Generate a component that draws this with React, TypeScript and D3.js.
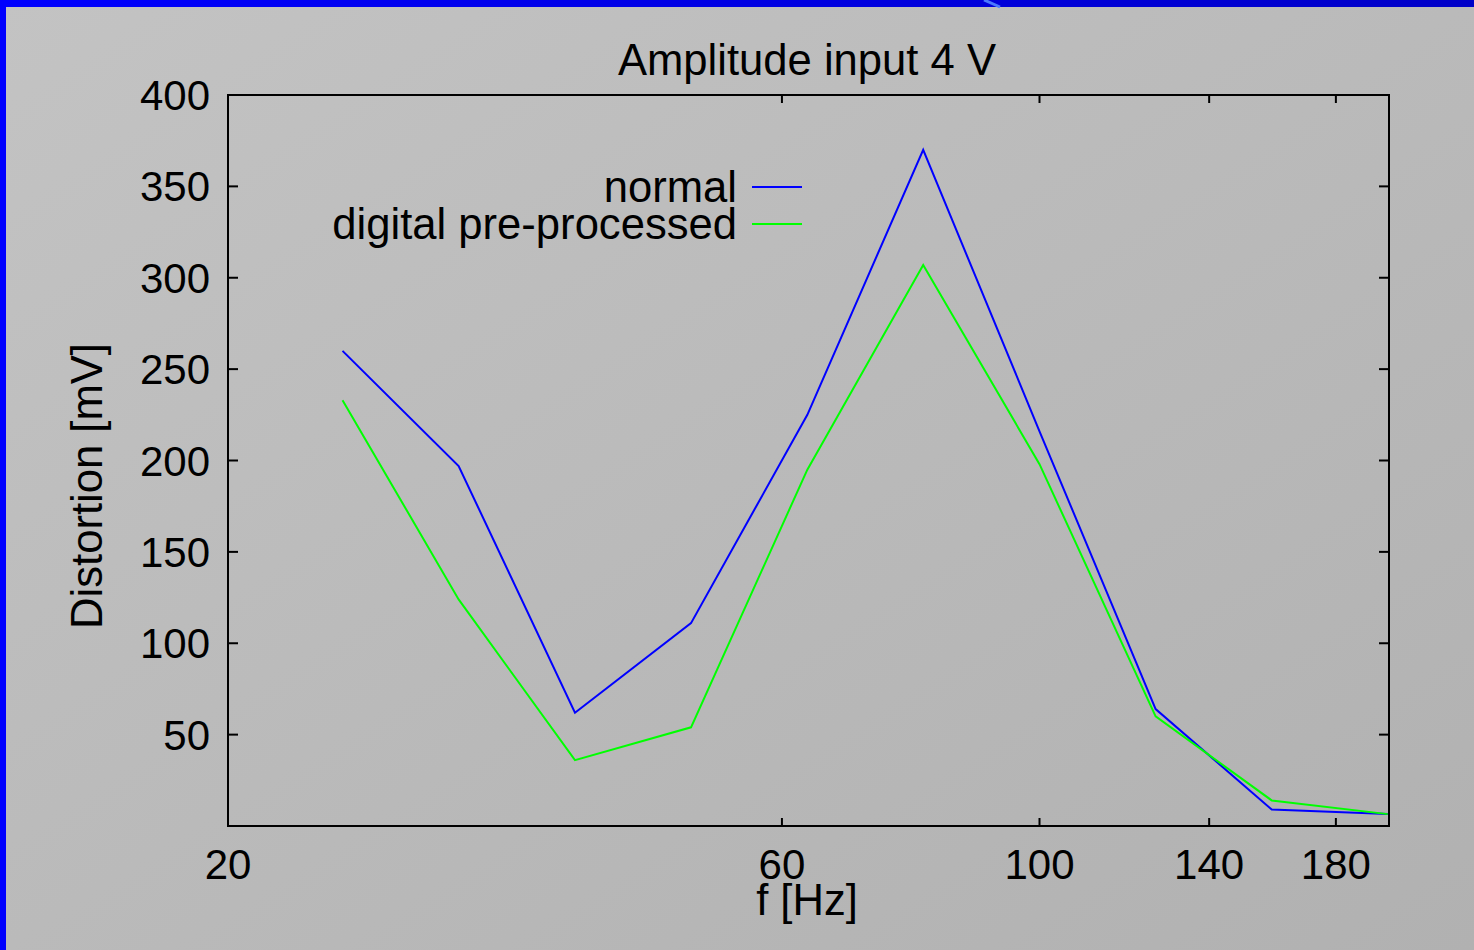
import { useEffect, useRef } from 'react';
import * as d3 from 'd3';

// third-octave centre frequencies [Hz] (exact base-10 values)
const freqs = [25.1, 31.6, 39.8, 50.1, 63.1, 79.4, 100, 125.9, 158.5, 199.5];
const normal = [260, 197, 62, 111, 225, 370, 216, 64, 9, 6.5];
const digital = [233, 124, 36, 54, 195, 307, 198, 60, 14, 6.5];
const xTicks = [20, 60, 100, 140, 180];
const yTicks = [0, 50, 100, 150, 200, 250, 300, 350, 400];
const seriesNames = ['normal', 'digital pre-processed'];
const seriesColors = ['#0000ff', '#00ff00'];

const W = 1474;
const H = 950;
const FONT = '"Liberation Sans", Arial, Helvetica, sans-serif';

const App = () => {
  const svgRef = useRef<SVGSVGElement>(null);

  useEffect(() => {
    document.body.style.margin = '0';
    const svg = d3.select(svgRef.current);
    svg.selectAll('*').remove();

    const margin = { left: 228, right: 85, top: 95, bottom: 124 };
    const x = d3.scaleLog().domain([20, 200]).range([margin.left, W - margin.right]);
    const y = d3.scaleLinear().domain([0, 400]).range([H - margin.bottom, margin.top]);

    // background
    const defs = svg.append('defs');
    const bg = defs.append('linearGradient').attr('id', 'bg')
      .attr('x1', '0').attr('y1', '0').attr('x2', '1').attr('y2', '1');
    bg.append('stop').attr('offset', '0').attr('stop-color', '#c3c3c3');
    bg.append('stop').attr('offset', '1').attr('stop-color', '#b1b1b1');
    const bar = defs.append('linearGradient').attr('id', 'bar')
      .attr('x1', '0').attr('y1', '0').attr('x2', '1').attr('y2', '0');
    bar.append('stop').attr('offset', '0').attr('stop-color', '#0000ff');
    bar.append('stop').attr('offset', '1').attr('stop-color', '#0000c8');

    svg.append('rect').attr('width', W).attr('height', H).attr('fill', 'url(#bg)');
    svg.append('rect').attr('width', W).attr('height', 7).attr('fill', 'url(#bar)');
    svg.append('rect').attr('width', 6).attr('height', H).attr('fill', '#0000ff');
    svg.append('line')
      .attr('x1', 984).attr('y1', 0).attr('x2', 1000).attr('y2', 7)
      .attr('stroke', '#4a78ff').attr('stroke-width', 3);

    const g = svg.append('g').style('font-family', FONT).style('font-size', '42px');

    // ticks (inward, all four sides)
    const x0 = x.range()[0], x1 = x.range()[1];
    const y0 = y.range()[0], y1 = y.range()[1];
    yTicks.forEach(v => {
      g.append('line').attr('x1', x0).attr('x2', x0 + 10).attr('y1', y(v)).attr('y2', y(v))
        .attr('stroke', '#000').attr('stroke-width', 2);
      g.append('line').attr('x1', x1 - 10).attr('x2', x1).attr('y1', y(v)).attr('y2', y(v))
        .attr('stroke', '#000').attr('stroke-width', 2);
      if (v > 0) {
        g.append('text').attr('x', 210).attr('y', y(v)).attr('dy', '0.36em')
          .attr('text-anchor', 'end').text(v);
      }
    });
    xTicks.forEach(v => {
      g.append('line').attr('x1', x(v)).attr('x2', x(v)).attr('y1', y0).attr('y2', y0 - 8)
        .attr('stroke', '#000').attr('stroke-width', 2);
      g.append('line').attr('x1', x(v)).attr('x2', x(v)).attr('y1', y1).attr('y2', y1 + 8)
        .attr('stroke', '#000').attr('stroke-width', 2);
      g.append('text').attr('x', x(v)).attr('y', 879).attr('text-anchor', 'middle').text(v);
    });

    // frame
    g.append('rect').attr('x', x0).attr('y', y1).attr('width', x1 - x0).attr('height', y0 - y1)
      .attr('fill', 'none').attr('stroke', '#000').attr('stroke-width', 2);

    // series
    const line = d3.line<number>().x((_, i) => x(freqs[i])).y(d => y(d));
    [normal, digital].forEach((s, i) => {
      g.append('path').attr('d', line(s)).attr('fill', 'none')
        .attr('stroke', seriesColors[i]).attr('stroke-width', 2).attr('stroke-linejoin', 'miter');
    });

    // legend
    seriesNames.forEach((name, i) => {
      const ly = 187 + i * 37;
      g.append('text').attr('x', 737).attr('y', ly + 15).attr('text-anchor', 'end')
        .style('font-size', '43.6px').text(name);
      g.append('line').attr('x1', 752).attr('x2', 802).attr('y1', ly).attr('y2', ly)
        .attr('stroke', seriesColors[i]).attr('stroke-width', 2);
    });

    // titles
    g.append('text').attr('x', 807).attr('y', 75).attr('text-anchor', 'middle')
      .style('font-size', '43.6px').text('Amplitude input 4 V');
    g.append('text').attr('x', 807).attr('y', 915).attr('text-anchor', 'middle')
      .style('font-size', '43.6px').text('f [Hz]');
    g.append('text').attr('transform', 'translate(102,486) rotate(-90)')
      .attr('text-anchor', 'middle').style('font-size', '43.6px').text('Distortion [mV]');
  }, []);

  return (
    <svg ref={svgRef} width={W} height={H}
      style={{ display: 'block', position: 'absolute', left: 0, top: 0 }} />
  );
};

export default App;
